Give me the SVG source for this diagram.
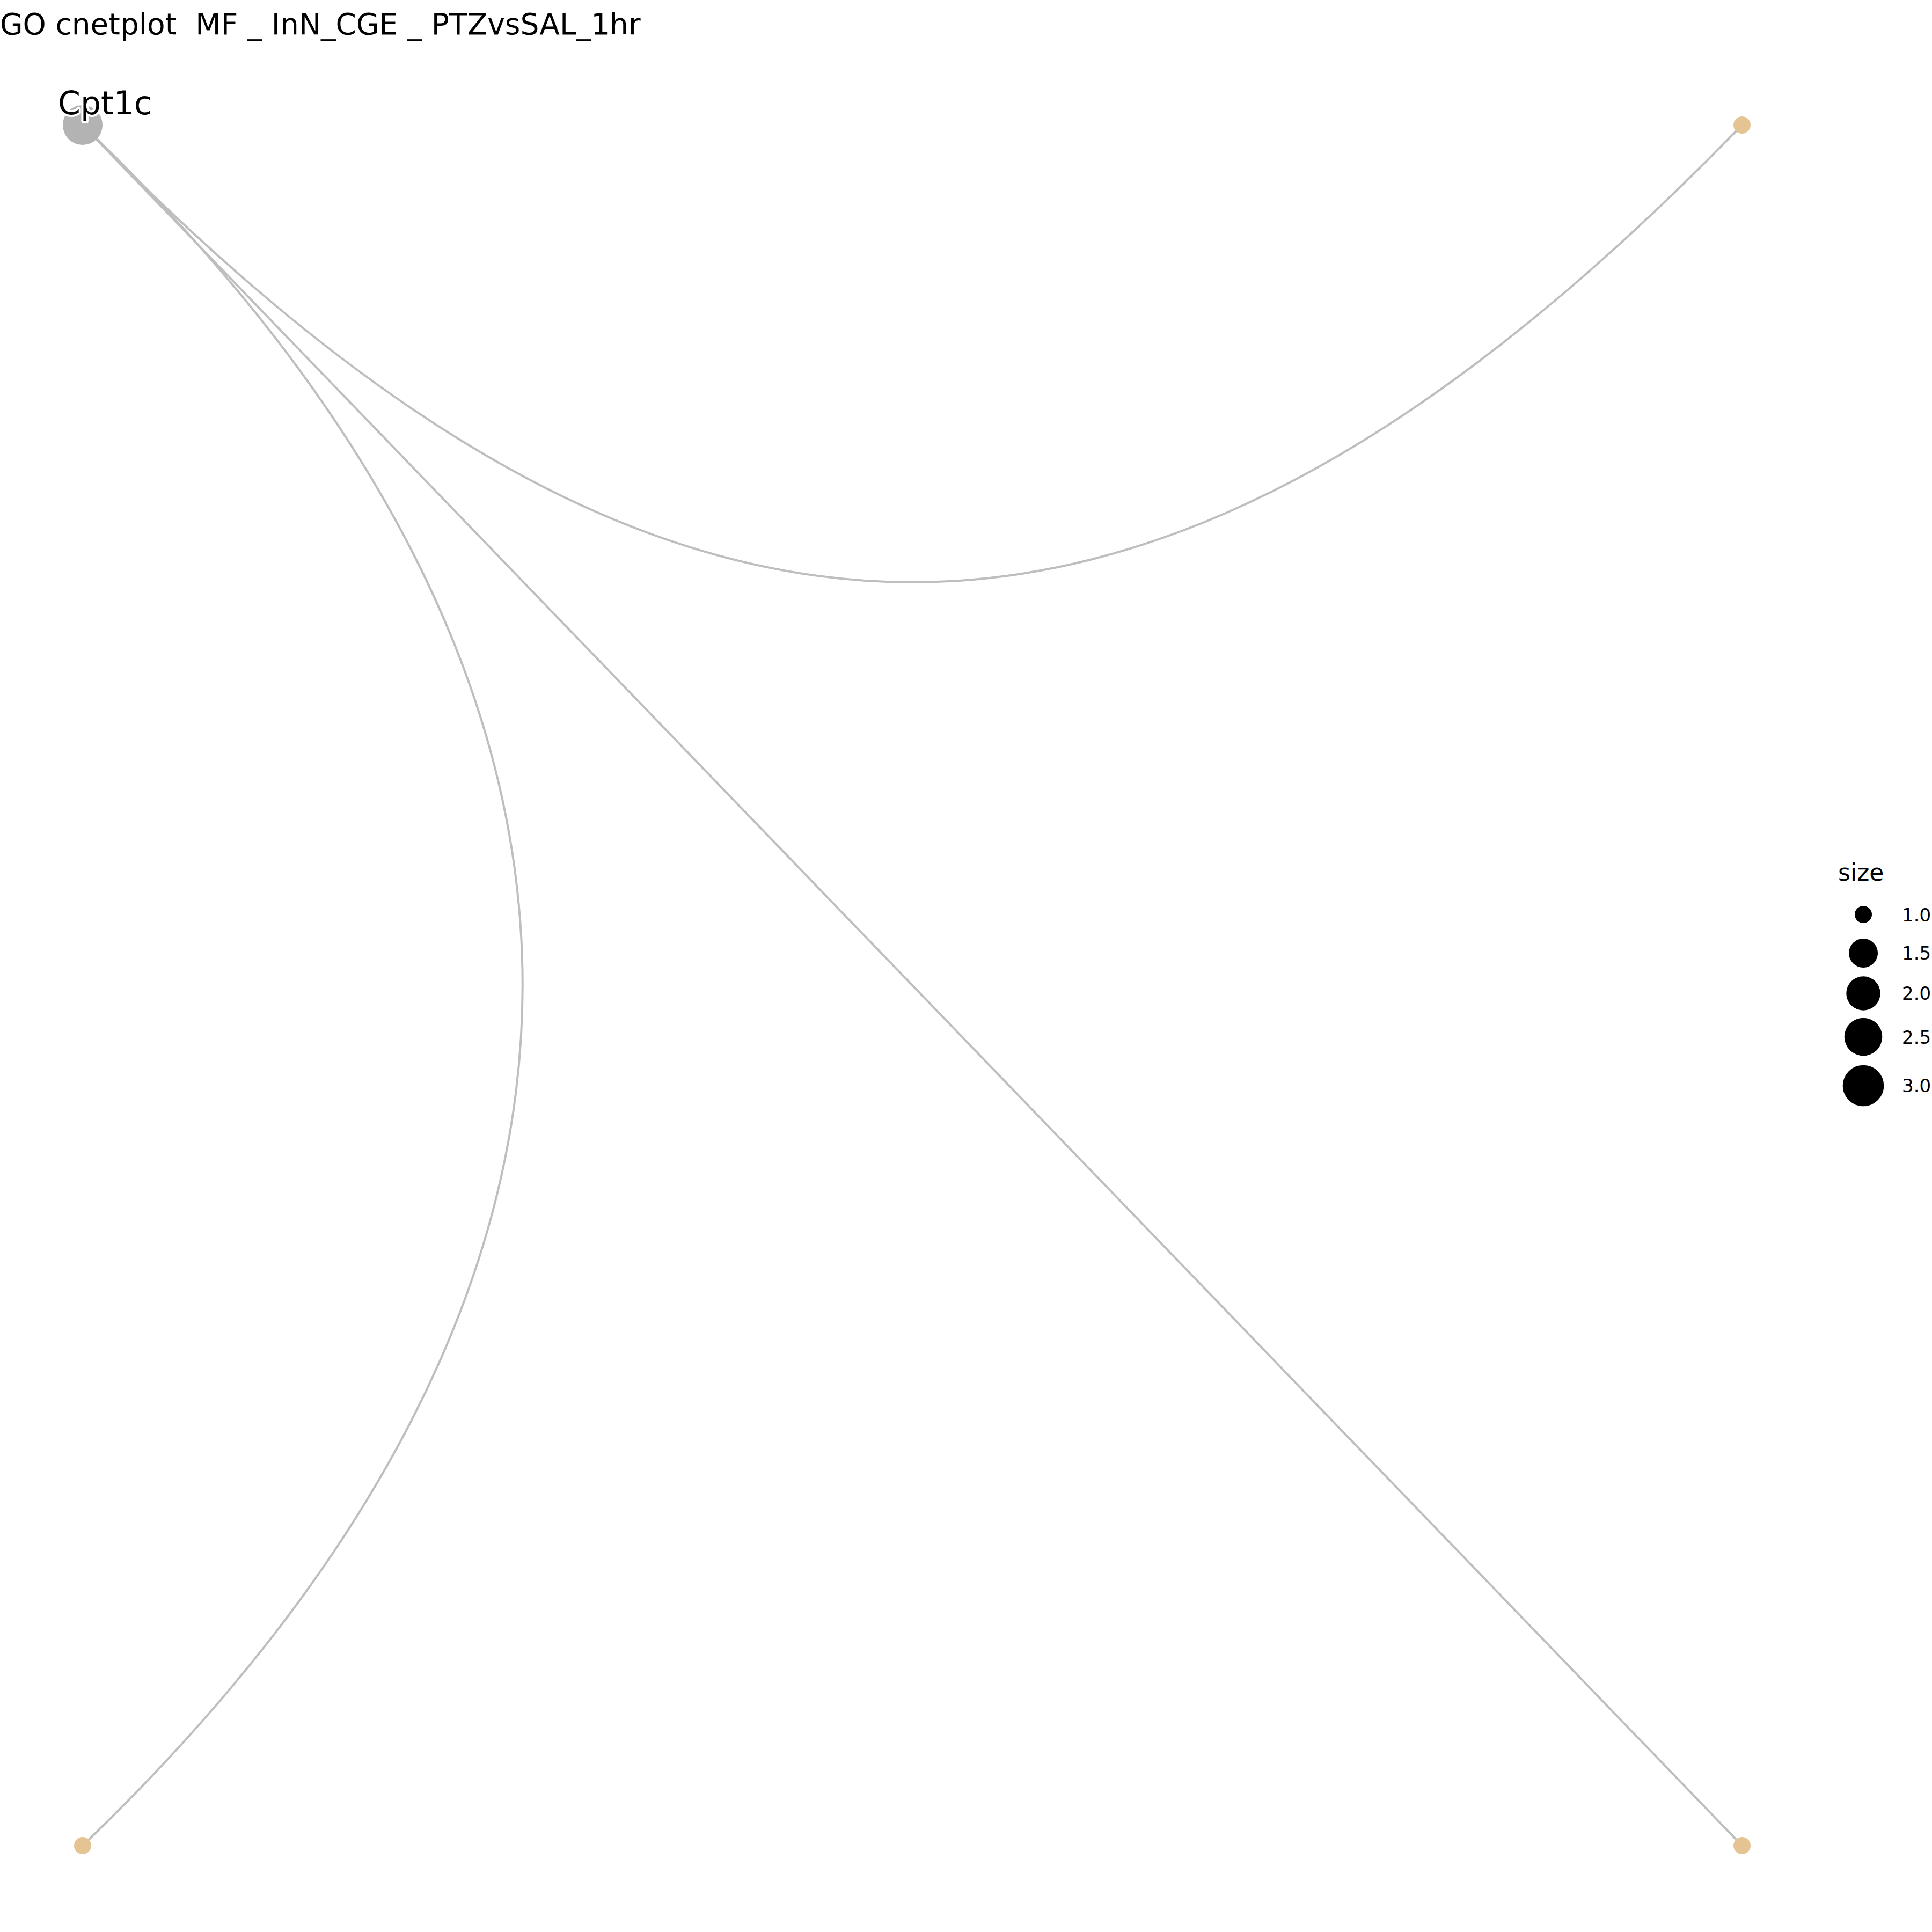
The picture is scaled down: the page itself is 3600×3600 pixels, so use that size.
<svg xmlns="http://www.w3.org/2000/svg" width="3600" height="3600" viewBox="0 0 3600 3600">
<style>
text{font-family:"DejaVu Sans","Liberation Sans",sans-serif;fill:#000}
.title{white-space:pre}
.edge{fill:none;stroke:#BEBEBE;stroke-width:4}
.cat{fill:#E5C494}
.gene{fill:#B3B3B3}
.leg{fill:#000}
.legt{font-size:34px}
.lab{font-size:60px;stroke:#FFFFFF;stroke-width:8;stroke-linejoin:round;paint-order:stroke}
</style>
<rect width="3600" height="3600" fill="#FFFFFF"/>
<text class="title" x="0" y="64" font-size="55" xml:space="preserve">GO cnetplot  MF _ InN_CGE _ PTZvsSAL_1hr</text>
<g id="connectors">
<path class="edge" d="M154,233 C1254,1369 2146,1369 3246,233"/>
<path class="edge" d="M154,233 C1247,1283 1247,2389 154,3439"/>
<path class="edge" d="M154,233 L3246,3439"/>
</g>
<g id="node-cat1"><circle class="cat" cx="3246" cy="233" r="16"/></g>
<g id="node-cat2"><circle class="cat" cx="154" cy="3439" r="16"/></g>
<g id="node-cat3"><circle class="cat" cx="3246" cy="3439" r="16"/></g>
<g id="node-Cpt1c"><circle class="gene" cx="154" cy="233" r="37"/><text class="lab" x="108" y="213">Cpt1c</text></g>
<g id="legend">
<text x="3425" y="1641" font-size="44">size</text>
<circle class="leg" cx="3472" cy="1704" r="16"/>
<circle class="leg" cx="3472" cy="1776" r="27"/>
<circle class="leg" cx="3472" cy="1851" r="31.7"/>
<circle class="leg" cx="3472" cy="1932" r="35.3"/>
<circle class="leg" cx="3472" cy="2023" r="38.3"/>
<text class="legt" x="3544" y="1717">1.0</text>
<text class="legt" x="3544" y="1788">1.5</text>
<text class="legt" x="3544" y="1863">2.0</text>
<text class="legt" x="3544" y="1945">2.5</text>
<text class="legt" x="3544" y="2035">3.0</text>
</g>
</svg>
